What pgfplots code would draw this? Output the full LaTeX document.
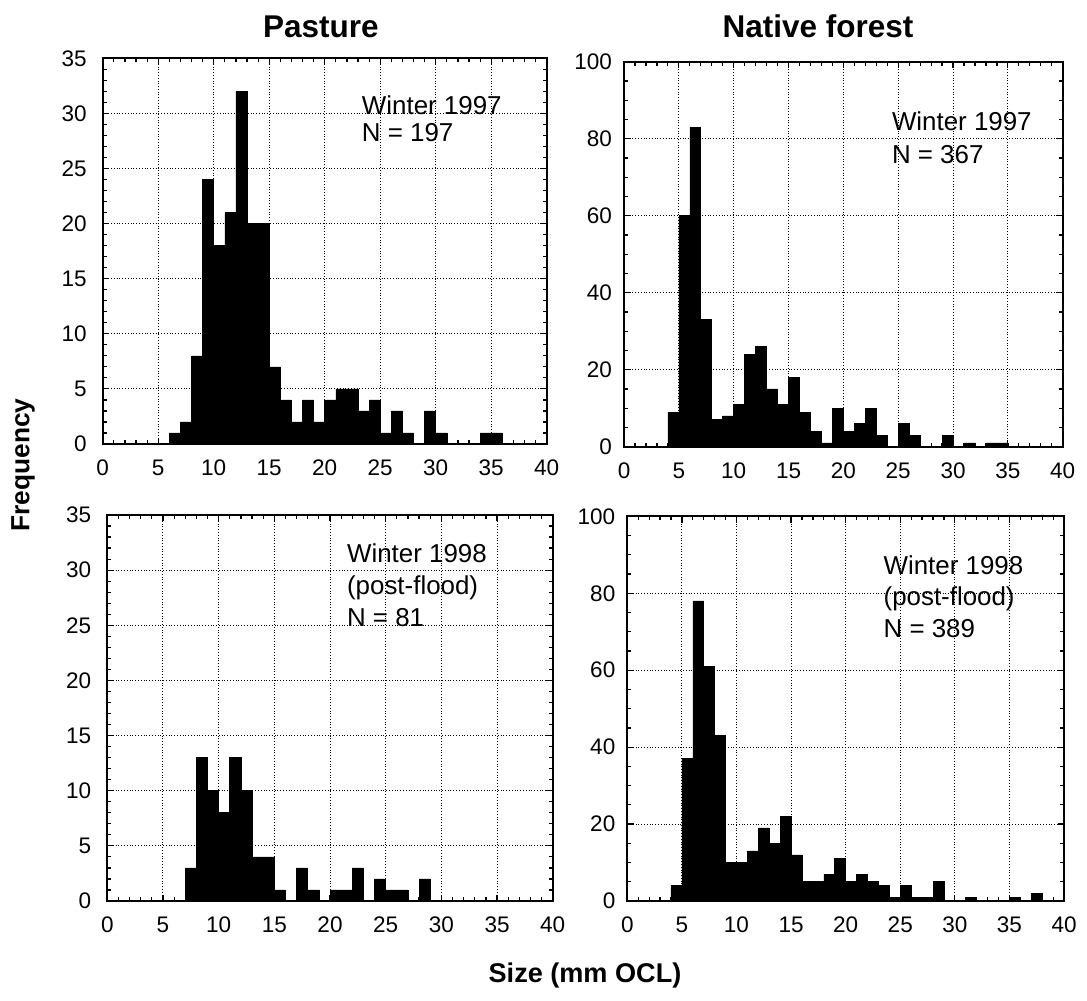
\documentclass[border=0pt]{standalone}
\usepackage{fontspec}
\setmainfont{Liberation Sans}
\usepackage{pgfplots}
\pgfplotsset{compat=1.18}
\pgfplotsset{
  hist/.style={
    scale only axis,
    anchor=south west,
    xmin=0, xmax=40,
    xtick={0,5,...,40},
    minor x tick num=4,
    tick align=inside,
    major tick length=3.2bp,
    minor tick length=2bp,
    grid=major,
    major grid style={densely dotted, line width=0.5bp, black},
    axis line style={line width=0.9bp},
    every tick/.style={line width=0.6bp, black},
    /pgf/number format/assume math mode=true,
    tick label style={font=\fontsize{11.3}{13}\selectfont},
    xticklabel style={yshift=-4.5bp},
  },
  past/.style={hist, ymin=0, ymax=35, ytick={0,5,...,35}, minor y tick num=4, yticklabel style={xshift=-4.5bp}},
  fore/.style={hist, ymin=0, ymax=100, ytick={0,20,...,100}, minor y tick num=3, yticklabel style={xshift=-2.5bp}},
  bars/.style={ybar interval, fill=black, draw=black, line width=0.3bp},
}
\begin{document}
\begin{tikzpicture}[x=1bp,y=1bp]
\path[use as bounding box] (0,0) rectangle (543.5,500.5);
\node[font=\fontsize{15.8}{18}\selectfont\bfseries] at (160.4,487) {Pasture};
\node[font=\fontsize{15.8}{18}\selectfont\bfseries] at (409,487.5) {Native forest};
\node[font=\fontsize{13.2}{16}\selectfont\bfseries, rotate=90] at (11.5,268) {Frequency};
\node[font=\fontsize{13.6}{16}\selectfont\bfseries] at (292.5,13) {Size (mm OCL)};

% Pasture, winter 1997
\begin{axis}[past, at={(51.35bp,278.5bp)}, width=222bp, height=192.85bp]
\addplot[bars] coordinates {(6,1)(7,2)(8,8)(9,24)(10,18)(11,21)(12,32)(13,20)(14,20)(15,7)(16,4)(17,2)(18,4)(19,2)(20,4)(21,5)(22,5)(23,3)(24,4)(25,1)(26,3)(27,1)(28,0)(29,3)(30,1)(31,0)(32,0)(33,0)(34,1)(35,1)(36,0)};
\node[anchor=north west, inner sep=0pt, align=left, font=\fontsize{13}{13.6}\selectfont] at (rel axis cs:0.583,0.905) {Winter 1997\\N = 197};
\end{axis}

% Native forest, winter 1997
\begin{axis}[fore, at={(312bp,277.15bp)}, width=219.35bp, height=192.5bp]
\addplot[bars] coordinates {(4,9)(5,60)(6,83)(7,33)(8,7)(9,8)(10,11)(11,24)(12,26)(13,15)(14,11)(15,18)(16,9)(17,4)(18,1)(19,10)(20,4)(21,6)(22,10)(23,3)(24,0)(25,6)(26,3)(27,0)(28,0)(29,3)(30,0)(31,1)(32,0)(33,1)(34,1)(35,0)};
\node[anchor=north west, inner sep=0pt, align=left, font=\fontsize{13}{16.5}\selectfont] at (rel axis cs:0.610,0.870) {Winter 1997\\N = 367};
\end{axis}

% Pasture, winter 1998
\begin{axis}[past, at={(53.65bp,50bp)}, width=222.7bp, height=193bp]
\addplot[bars] coordinates {(7,3)(8,13)(9,10)(10,8)(11,13)(12,10)(13,4)(14,4)(15,1)(16,0)(17,3)(18,1)(19,0)(20,1)(21,1)(22,3)(23,0)(24,2)(25,1)(26,1)(27,0)(28,2)(29,0)};
\node[anchor=north west, inner sep=0pt, align=left, font=\fontsize{13}{16.2}\selectfont] at (rel axis cs:0.5375,0.927) {Winter 1998\\(post-flood)\\N = 81};
\end{axis}

% Native forest, winter 1998
\begin{axis}[fore, at={(313.65bp,50bp)}, width=218.35bp, height=192.3bp]
\addplot[bars] coordinates {(4,4)(5,37)(6,78)(7,61)(8,43)(9,10)(10,10)(11,13)(12,19)(13,15)(14,22)(15,12)(16,5)(17,5)(18,7)(19,11)(20,5)(21,7)(22,5)(23,4)(24,1)(25,4)(26,1)(27,1)(28,5)(29,0)(30,0)(31,1)(32,0)(33,0)(34,0)(35,1)(36,0)(37,2)(38,0)};
\node[anchor=north west, inner sep=0pt, align=left, font=\fontsize{13}{16}\selectfont] at (rel axis cs:0.586,0.900) {Winter 1998\\(post-flood)\\N = 389};
\end{axis}
\end{tikzpicture}
\end{document}
